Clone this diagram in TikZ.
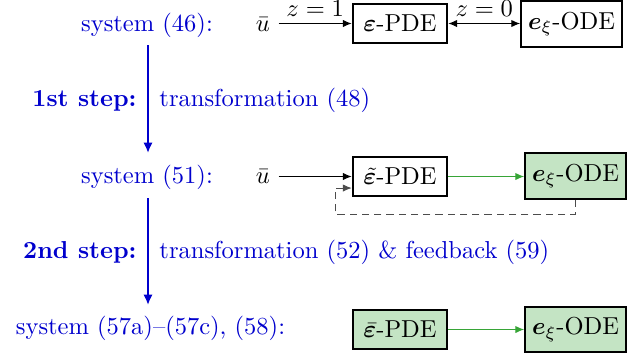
\documentclass[tikz,border=0pt]{standalone}
\usepackage{amsmath,bm}
\usetikzlibrary{arrows.meta,calc}
\definecolor{myblue}{RGB}{0,0,205}
\definecolor{gfill}{RGB}{196,228,196}
\definecolor{gline}{RGB}{55,165,55}
\begin{document}
\begin{tikzpicture}[x=0.408pt,y=-0.408pt,
  pdebox/.style={draw,line width=0.9pt,minimum width=38.5pt,minimum height=16pt,inner sep=2pt},
  odebox/.style={draw,line width=0.9pt,minimum width=41pt,minimum height=18.5pt,inner sep=2pt},
  gbox/.style={fill=gfill},
  sysl/.style={text=myblue,anchor=base},
  stepl/.style={text=myblue,inner sep=0pt},
  bluearr/.style={draw=myblue,line width=0.85pt,-{Latex[length=4.2pt,width=3.8pt]}},
  blk/.style={-{Latex[length=3.6pt,width=3pt]}},
  grn/.style={draw=gline,-{Latex[length=3.6pt,width=3pt]}},
  fb/.style={draw=black!70,dash pattern=on 3pt off 2pt,-{Latex[length=3.6pt,width=3pt]}}]
\useasboundingbox (0,0) rectangle (630,356);
% row 1
\node[sysl] (s1) at (147,31) {system (46):};
\node[anchor=base] (u1) at (263,31) {$\bar u$};
\node[pdebox] (p1) at (400,23.5) {$\bm{\varepsilon}$-PDE};
\node[odebox] (o1) at (571.5,24) {$\bm{e}_\xi$-ODE};
\draw[blk] (u1.east |- p1.west) -- node[above=-0.5pt] {$z=1$} (p1.west);
\draw[{Latex[length=3.6pt,width=3pt]}-{Latex[length=3.6pt,width=3pt]}] (p1.east) -- node[above=-0.5pt] {$z=0$} (o1.west |- p1.east);
% row 2
\node[sysl] (s2) at (147,183) {system (51):};
\node[anchor=base] (u2) at (263,183) {$\bar u$};
\node[pdebox] (p2) at (400,176.5) {$\tilde{\bm{\varepsilon}}$-PDE};
\node[odebox,gbox] (o2) at (575.5,176) {$\bm{e}_\xi$-ODE};
\draw[blk] (u2.east |- p2.west) -- (p2.west);
\draw[grn] (p2.east) -- (o2.west |- p2.east);
\coordinate (fbc) at (335,214);
\draw[fb] (o2.south) |- (fbc) |- ([yshift=-4.7pt]p2.west);
% row 3
\node[sysl] (s3) at (150.5,334) {system (57a)--(57c), (58):};
\node[pdebox,gbox] (p3) at (400,329.5) {$\bar{\bm{\varepsilon}}$-PDE};
\node[odebox,gbox] (o3) at (575.5,329.5) {$\bm{e}_\xi$-ODE};
\draw[grn] (p3.east) -- (o3.west |- p3.east);
% steps
\draw[bluearr] (148,45) -- (148,153);
\draw[bluearr] (148,198) -- (148,305);
\node[stepl,anchor=base east] (st1) at (137,106) {\textbf{1st step:}};
\node[stepl,anchor=base west] (tr1) at (159,106) {transformation (48)};
\node[stepl,anchor=base east] (st2) at (137,258.5) {\textbf{2nd step:}};
\node[stepl,anchor=base west] (tr2) at (159,258.5) {transformation (52) \& feedback (59)};
\end{tikzpicture}
\end{document}
